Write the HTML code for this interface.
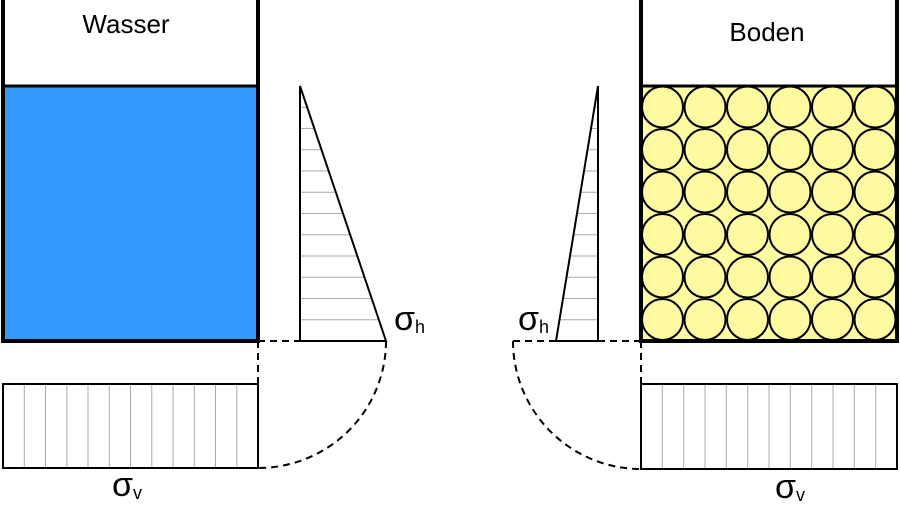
<!DOCTYPE html>
<html><head><meta charset="utf-8"><style>
html,body{margin:0;padding:0;background:#fff;}
svg{display:block;}
text{font-family:"Liberation Sans","DejaVu Sans",sans-serif;fill:#000;}
</style></head><body>
<svg width="900" height="509" viewBox="0 0 900 509" xmlns="http://www.w3.org/2000/svg">
<defs>
<clipPath id="soil"><rect x="641" y="86" width="256" height="255"/></clipPath>
</defs>
<rect x="3" y="86" width="255" height="255" fill="#3399ff"/>
<path d="M3 0 V341 H258 V0" fill="none" stroke="#000" stroke-width="4"/>
<line x1="3" y1="86" x2="258" y2="86" stroke="#000" stroke-width="3"/>
<text x="126" y="33" style="font-size:26px" text-anchor="middle">Wasser</text>

<rect x="641" y="86" width="256" height="255" fill="#fdfaa0"/>
<g clip-path="url(#soil)" fill="#fdfaa0" stroke="#000" stroke-width="2">
<g id="row">
<circle cx="662.5" cy="107" r="20.5"/><circle cx="705" cy="107" r="20.5"/><circle cx="747.5" cy="107" r="20.5"/><circle cx="790" cy="107" r="20.5"/><circle cx="832.5" cy="107" r="20.5"/><circle cx="875" cy="107" r="20.5"/>
</g>
<use href="#row" y="42.5"/><use href="#row" y="85"/><use href="#row" y="127.5"/><use href="#row" y="170"/><use href="#row" y="212.5"/>
</g>
<path d="M641 0 V341 H897 V0" fill="none" stroke="#000" stroke-width="4"/>
<line x1="641" y1="86" x2="897" y2="86" stroke="#000" stroke-width="3"/>
<text x="767" y="41" style="font-size:26px" text-anchor="middle">Boden</text>

<g stroke="#aaa" stroke-width="1">
<line x1="300" y1="107.25" x2="307.2" y2="107.25"/>
<line x1="300" y1="128.5" x2="314.3" y2="128.5"/>
<line x1="300" y1="149.75" x2="321.5" y2="149.75"/>
<line x1="300" y1="171" x2="328.7" y2="171"/>
<line x1="300" y1="192.25" x2="335.8" y2="192.25"/>
<line x1="300" y1="213.5" x2="343" y2="213.5"/>
<line x1="300" y1="234.75" x2="350.2" y2="234.75"/>
<line x1="300" y1="256" x2="357.3" y2="256"/>
<line x1="300" y1="277.25" x2="364.5" y2="277.25"/>
<line x1="300" y1="298.5" x2="371.7" y2="298.5"/>
<line x1="300" y1="319.75" x2="378.8" y2="319.75"/>
</g>
<path d="M300 86 V341 H386 Z" fill="none" stroke="#000" stroke-width="2"/>

<g stroke="#aaa" stroke-width="1">
<line x1="598" y1="107.25" x2="594.5" y2="107.25"/>
<line x1="598" y1="128.5" x2="591" y2="128.5"/>
<line x1="598" y1="149.75" x2="587.5" y2="149.75"/>
<line x1="598" y1="171" x2="584" y2="171"/>
<line x1="598" y1="192.25" x2="580.5" y2="192.25"/>
<line x1="598" y1="213.5" x2="577" y2="213.5"/>
<line x1="598" y1="234.75" x2="573.5" y2="234.75"/>
<line x1="598" y1="256" x2="570" y2="256"/>
<line x1="598" y1="277.25" x2="566.5" y2="277.25"/>
<line x1="598" y1="298.5" x2="563" y2="298.5"/>
<line x1="598" y1="319.75" x2="559.5" y2="319.75"/>
</g>
<path d="M598 86 V341 H556 Z" fill="none" stroke="#000" stroke-width="2"/>

<g stroke="#aaa" stroke-width="1">
<line x1="24.3" y1="384" x2="24.3" y2="468"/><line x1="45.5" y1="384" x2="45.5" y2="468"/><line x1="66.8" y1="384" x2="66.8" y2="468"/><line x1="88" y1="384" x2="88" y2="468"/><line x1="109.3" y1="384" x2="109.3" y2="468"/><line x1="130.5" y1="384" x2="130.5" y2="468"/><line x1="151.8" y1="384" x2="151.8" y2="468"/><line x1="173" y1="384" x2="173" y2="468"/><line x1="194.3" y1="384" x2="194.3" y2="468"/><line x1="215.5" y1="384" x2="215.5" y2="468"/><line x1="236.8" y1="384" x2="236.8" y2="468"/>
</g>
<rect x="3" y="384" width="255" height="84" fill="none" stroke="#000" stroke-width="2"/>

<g stroke="#aaa" stroke-width="1">
<line x1="662.3" y1="384" x2="662.3" y2="469"/><line x1="683.7" y1="384" x2="683.7" y2="469"/><line x1="705" y1="384" x2="705" y2="469"/><line x1="726.3" y1="384" x2="726.3" y2="469"/><line x1="747.7" y1="384" x2="747.7" y2="469"/><line x1="769" y1="384" x2="769" y2="469"/><line x1="790.3" y1="384" x2="790.3" y2="469"/><line x1="811.7" y1="384" x2="811.7" y2="469"/><line x1="833" y1="384" x2="833" y2="469"/><line x1="854.3" y1="384" x2="854.3" y2="469"/><line x1="875.7" y1="384" x2="875.7" y2="469"/>
</g>
<rect x="641" y="384" width="256" height="85" fill="none" stroke="#000" stroke-width="2"/>

<g fill="none" stroke="#000" stroke-width="2" stroke-dasharray="7,5">
<line x1="258" y1="341" x2="300" y2="341"/>
<line x1="258" y1="341" x2="258" y2="384"/>
<path d="M386 341 A128 127 0 0 1 258 468"/>
<line x1="598" y1="341" x2="641" y2="341"/>
<line x1="513" y1="341" x2="556" y2="341"/>
<line x1="641" y1="341" x2="641" y2="384"/>
<path d="M513 341 A128 128 0 0 0 641 469"/>
</g>

<text x="394" y="330" style="font-size:34px">σ<tspan style="font-size:18px" dy="3">h</tspan></text>
<text x="518" y="330" style="font-size:34px">σ<tspan style="font-size:18px" dy="3">h</tspan></text>
<text x="112" y="496" style="font-size:34px">σ<tspan style="font-size:18px" dy="3">v</tspan></text>
<text x="775" y="498" style="font-size:34px">σ<tspan style="font-size:18px" dy="3">v</tspan></text>
</svg>
</body></html>
